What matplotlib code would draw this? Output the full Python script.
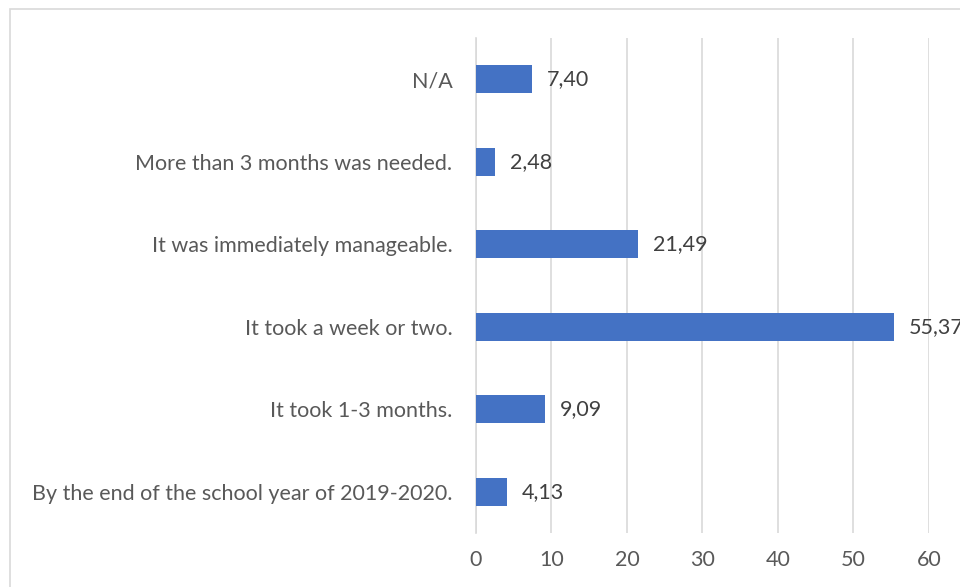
import matplotlib.pyplot as plt
from matplotlib import patches

# Ответы на вопрос об адаптации, проценты
categories = [
    "By the end of the school year of 2019-2020.",
    "It took 1-3 months.",
    "It took a week or two.",
    "It was immediately manageable.",
    "More than 3 months was needed.",
    "N/A",
]
values = [4.13, 9.09, 55.37, 21.49, 2.48, 7.40]
x_ticks = [0, 10, 20, 30, 40, 50, 60]

bar_color = "#4472C4"
text_color = "#595959"
grid_color = "#D9D9D9"

plt.rcParams['font.family'] = ['Lato', 'DejaVu Sans']

fig = plt.figure(figsize=(9.6, 5.87), dpi=100)
ax = fig.add_axes([0.4958, 0.092, 0.4719, 0.8433])

# рамка области диаграммы (правый и нижний край за пределами картинки)
fig.patches.append(patches.Rectangle((10 / 960, -0.1), 1.2, 1 - 9 / 587 + 0.1,
                                     transform=fig.transFigure, fill=False,
                                     edgecolor=grid_color, linewidth=1.2))

y = range(len(categories))
ax.barh(y, values, height=0.34, color=bar_color, zorder=3)

for yi, v in zip(y, values):
    ax.annotate(f"{v:.2f}".replace(".", ","), xy=(v, yi), xytext=(15, 0),
                textcoords="offset pixels",
                ha="left", va="center", fontsize=15.5, color="#404040",
                annotation_clip=False, zorder=4)

ax.set_xlim(0, 60)
ax.set_ylim(-0.5, len(categories) - 0.5)
ax.set_xticks(x_ticks)
ax.set_yticks(list(y))
ax.set_yticklabels(categories)
ax.tick_params(axis="y", length=0, pad=17, labelsize=15.5, labelcolor=text_color)
ax.tick_params(axis="x", length=0, pad=12, labelsize=15.5, labelcolor=text_color)

ax.grid(axis="x", color=grid_color, linewidth=1.2, zorder=0)
for s in ["top", "right", "bottom"]:
    ax.spines[s].set_visible(False)
ax.spines["left"].set_color(grid_color)
ax.spines["left"].set_linewidth(1.2)

fig.savefig("out.png", dpi=100)
